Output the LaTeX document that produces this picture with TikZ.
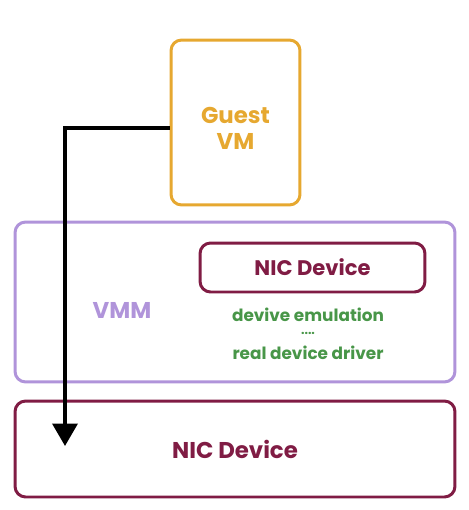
\documentclass[tikz,border=0pt]{standalone}
\usepackage{fontspec}
\setmainfont{Poppins}
\usetikzlibrary{arrows.meta,positioning}
\definecolor{guestcol}{RGB}{230,168,48}
\definecolor{vmmcol}{RGB}{176,148,218}
\definecolor{niccol}{RGB}{128,28,68}
\definecolor{drvcol}{RGB}{72,150,72}
\tikzset{box/.style={draw, rounded corners=6pt, line width=1.7pt, font=\bfseries},
         drv/.style={text=drvcol, inner sep=0pt, font=\bfseries\fontsize{9.6}{11}\selectfont}}

\begin{document}
\begin{tikzpicture}[x=0.02cm, y=-0.02cm]
    \useasboundingbox (0,0) rectangle (469,510);
    \node[box, draw=guestcol, text=guestcol, minimum width=2.58cm, minimum height=3.3cm,
          font=\bfseries\fontsize{13}{15}\selectfont] (guest) at (235.5,122.5)
          {\parbox{2cm}{\centering\vspace*{0.24cm}Guest\\VM}};
    \node[box, draw=vmmcol, minimum width=8.8cm, minimum height=3.2cm] (vmm) at (235,302) {};
    \node[text=vmmcol, font=\bfseries\fontsize{13}{15}\selectfont] (vmmlabel) at (122,310) {VMM};
    \node[box, draw=niccol, text=niccol, minimum width=4.5cm, minimum height=0.98cm,
          font=\bfseries\fontsize{12}{14}\selectfont] (vnic) at (312.5,267.5) {NIC Device};
    \node[drv] (emul) at (308,315) {devive emulation};
    \node[drv, font=\bfseries\fontsize{7}{8}\selectfont] (dots) at (308,333) {....};
    \node[drv] (driver) at (308,353) {real device driver};
    \node[box, draw=niccol, text=niccol, minimum width=8.8cm, minimum height=1.92cm,
          font=\bfseries\fontsize{13}{15}\selectfont] (nic) at (235,449) {NIC Device};
    \coordinate (bend) at (65,128);
    \coordinate (tip) at (65,446);

    \draw[line width=2.2pt, -{Triangle[length=0.45cm, width=0.5cm]}] (guest.west |- bend) -- (bend) -- (tip);
\end{tikzpicture}
\end{document}
